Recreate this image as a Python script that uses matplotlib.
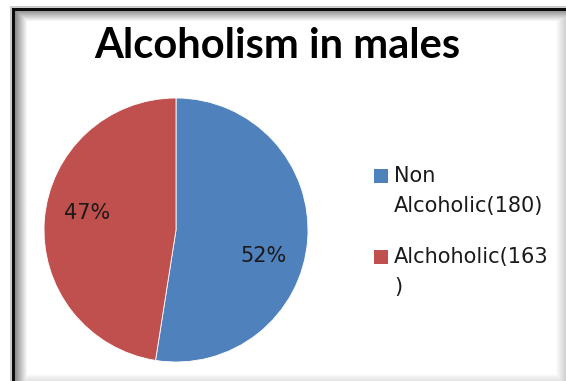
import numpy as np
import matplotlib
matplotlib.use("Agg")
import matplotlib.pyplot as plt
from matplotlib.patches import Rectangle

# Data
categories = ["Non Alcoholic", "Alchoholic"]
counts = [180, 163]
legend_labels = ["Non\nAlcoholic(180)", "Alchoholic(163\n)"]
colors = ["#4F81BD", "#C0504D"]
title = "Alcoholism in males"

W, H = 566, 381
fig = plt.figure(figsize=(W / 100, H / 100), dpi=100)
fig.patch.set_facecolor("white")
plt.rcParams["font.family"] = ["DejaVu Sans"]

# Framed chart area with a soft inner shadow
bg = fig.add_axes([0, 0, 1, 1], zorder=0)
yy, xx = np.mgrid[0:H, 0:W].astype(float)
left = np.where(xx < 12, 1.0, np.where(xx < 15, 0.05,
                np.clip(0.55 + (xx - 15) / 12 * 0.45, 0, 1)))
top = np.where(yy < 8, 1.0, np.where(yy < 11, 0.05,
               np.clip(0.6 + (yy - 11) / 10 * 0.4, 0, 1)))
right = np.clip(1 - (xx - 555) / 11 * 0.2, 0.8, 1)
bottom = np.clip(1 - (yy - 373) / 8 * 0.12, 0.88, 1)
shade = np.minimum.reduce([left, top, right, bottom])
shade[(xx < 12) | (yy < 8)] = 1.0
shade[(yy < 8) & (yy >= 6) & (xx >= 10)] = 0.8
shade[(xx < 12) & (xx >= 10) & (yy >= 6)] = 0.8
bg.imshow(shade, cmap="gray", vmin=0, vmax=1, extent=(0, W, H, 0),
          interpolation="nearest", aspect="auto")
bg.set_xlim(0, W)
bg.set_ylim(H, 0)
bg.axis("off")

# Pie
cx, cy, r = 176, 230, 132
ax = fig.add_axes([(cx - r) / W, (H - cy - r) / H, 2 * r / W, 2 * r / H], zorder=1)
ax.patch.set_alpha(0)
wedges, texts, autotexts = ax.pie(
    counts, colors=colors, startangle=90, counterclock=False,
    autopct=lambda p: f"{int(p)}%", pctdistance=0.69,
    wedgeprops=dict(edgecolor="white", linewidth=0.6),
    textprops=dict(fontsize=15, color="#1a1a1a"))
autotexts[0].set_position((0.66, -0.20))
autotexts[1].set_position((-0.67, 0.13))
ax.set_xlim(-1, 1)
ax.set_ylim(-1, 1)
ax.set_aspect("equal")

# Title
fig.text(277 / W, 1 - 46 / H, title, ha="center", va="center",
         fontsize=30, fontweight="bold", color="black", family=["Lato", "DejaVu Sans"])

# Legend
entries_y = [176, 257]
for lab, col, y0 in zip(legend_labels, colors, entries_y):
    fig.patches.append(Rectangle((374 / W, 1 - (y0 + 7) / H), 14 / W, 14 / H,
                                 transform=fig.transFigure, facecolor=col,
                                 edgecolor="none", zorder=3))
    fig.text(394 / W, 1 - (y0 - 10) / H, lab, ha="left", va="top",
             fontsize=15, color="#1a1a1a", linespacing=1.6)

fig.savefig("out.png", dpi=100)
